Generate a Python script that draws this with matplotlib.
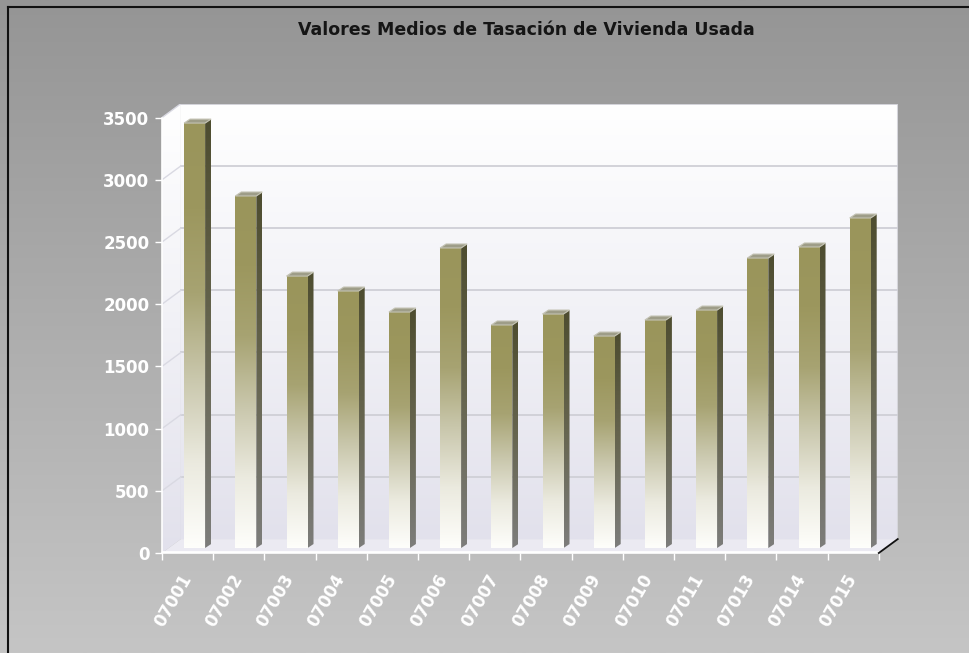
import numpy as np
import matplotlib.pyplot as plt
from matplotlib.colors import LinearSegmentedColormap
from matplotlib.patches import Polygon
from matplotlib.lines import Line2D

# datos
codigos = ['07001', '07002', '07003', '07004', '07005', '07006', '07007',
           '07008', '07009', '07010', '07011', '07013', '07014', '07015']
valores = [3416, 2830, 2186, 2066, 1897, 2412, 1793,
           1881, 1704, 1833, 1913, 2331, 2420, 2653]
y_ticks = [0, 500, 1000, 1500, 2000, 2500, 3000, 3500]

W, H = 970, 653
YMAX = 3500
n = len(codigos)

# 3d look (depth offsets in data units)
DX, DY = 0.37, 112      # wall depth
BX, BY = 0.137, 40      # bar position in depth
SX, SY = 0.117, 32      # bar side depth
BW = 0.41               # bar width

fig = plt.figure(figsize=(W / 100, H / 100), dpi=100)

# background gradient
bg = fig.add_axes([0, 0, 1, 1])
grad = np.linspace(0, 1, 256).reshape(-1, 1)
bg_cmap = LinearSegmentedColormap.from_list('bg', ['#959595', '#c5c5c5'])
bg.imshow(grad, cmap=bg_cmap, aspect='auto', extent=[0, 1, 0, 1], origin='upper')
bg.set_xlim(0, 1)
bg.set_ylim(0, 1)
bg.axis('off')
fig.add_artist(Line2D([8 / W, 8 / W], [0, 1 - 7 / H], transform=fig.transFigure, color='#111111', lw=1.5))
fig.add_artist(Line2D([8 / W, 1], [1 - 7 / H, 1 - 7 / H], transform=fig.transFigure, color='#111111', lw=1.5))

fig.text(526 / W, 1 - 30 / H, 'Valores Medios de Tasación de Vivienda Usada',
         ha='center', va='center', fontsize=12.5, fontweight='bold', color='#151515')

# main axes: front axis from x=162 px, zero at y=553 px
px_x = 51.2
px_y = 0.1244
ax = fig.add_axes([162 / W, 100 / H, (n + DX) * px_x / W, (YMAX + DY) * px_y / H])
ax.patch.set_alpha(0)
xmax = n + DX
ymax = YMAX + DY

# walls
wall_cmap = LinearSegmentedColormap.from_list('wall', ['#e2e1ec', '#f1f1f6', '#ffffff'])
back = Polygon([(DX, DY), (n + DX, DY), (n + DX, YMAX + DY), (DX, YMAX + DY)], closed=True,
               facecolor='none', edgecolor='none')
ax.add_patch(back)
im = ax.imshow(grad, cmap=wall_cmap, origin='lower',
               aspect='auto', extent=[DX, n + DX, DY, YMAX + DY], zorder=0)
im.set_clip_path(back)
left = Polygon([(0, 0), (DX, DY), (DX, YMAX + DY), (0, YMAX)], closed=True,
               facecolor='none', edgecolor='none')
ax.add_patch(left)
im2 = ax.imshow(grad, cmap=wall_cmap, origin='lower',
                aspect='auto', extent=[0, DX, 0, YMAX + DY], zorder=0)
im2.set_clip_path(left)
ax.add_patch(Polygon([(0, 0), (n, 0), (n + DX, DY), (DX, DY)], closed=True,
                     facecolor='#ebeaf2', edgecolor='none', zorder=0.5))
ax.plot([0, n], [8, 8], color='#ffffff', lw=2, zorder=0.6)
ax.plot([n + DX, n + DX], [DY, YMAX + DY], color='#d6d6dc', lw=1.5, zorder=0.6)

# grid on walls
for v in y_ticks[1:]:
    ax.plot([DX, n + DX], [v + DY, v + DY], color='#cfcfd6', lw=1.3, zorder=1)
    ax.plot([0, DX], [v, v + DY], color='#d9d9e2', lw=1.0, zorder=1)

# bars
front_cmap = LinearSegmentedColormap.from_list(
    'front', ['#fefefb', '#ebeadf', '#c9c7ac', '#a7a372', '#9c975e', '#9a955b'])
side_cmap = LinearSegmentedColormap.from_list('side', ['#7d7d7b', '#66654f', '#4e4d30'])
xs = np.arange(n) + 0.5 + BX
bars = ax.bar(xs, valores, width=BW, bottom=BY, color='none', edgecolor='none', zorder=2)
for b, v in zip(bars, valores):
    x0 = b.get_x()
    x1 = x0 + BW
    top = BY + v
    img = ax.imshow(grad, cmap=front_cmap, origin='lower', aspect='auto',
                    extent=[x0, x1, BY, top], zorder=2)
    img.set_clip_path(b)
    side = Polygon([(x1, BY), (x1 + SX, BY + SY), (x1 + SX, top + SY), (x1, top)], closed=True,
                   facecolor='none', edgecolor='none', zorder=2)
    ax.add_patch(side)
    simg = ax.imshow(grad, cmap=side_cmap, origin='lower', aspect='auto',
                     extent=[x1, x1 + SX, BY, top + SY], zorder=2)
    simg.set_clip_path(side)
    ax.add_patch(Polygon([(x0, top), (x1, top), (x1 + SX, top + SY), (x0 + SX, top + SY)],
                         closed=True, facecolor='#9e9d88', edgecolor='#c4c3b4', lw=0.8, zorder=3))

ax.plot([n, n + DX], [0, DY], color='#111111', lw=1.3, zorder=4, clip_on=False)

ax.set_xlim(0, xmax)
ax.set_ylim(0, ymax)

for s in ['top', 'right']:
    ax.spines[s].set_visible(False)
ax.spines['left'].set_bounds(0, YMAX)
ax.spines['bottom'].set_bounds(0, n)
for s in ['left', 'bottom']:
    ax.spines[s].set_color('white')
    ax.spines[s].set_linewidth(1.2)

ax.set_yticks(y_ticks)
ax.set_yticklabels([str(v) for v in y_ticks])
ax.tick_params(axis='y', colors='white', length=5, width=1.0, pad=4, labelsize=12)
for t in ax.get_yticklabels():
    t.set_fontweight('bold')

ax.set_xticks(np.arange(n) + 0.5)
ax.set_xticklabels(codigos, rotation=60, ha='right', va='center', rotation_mode='anchor')
ax.set_xticks(np.arange(n + 1), minor=True)
ax.tick_params(axis='x', which='major', length=0, pad=16, labelsize=12, colors='white')
ax.tick_params(axis='x', which='minor', length=5, width=1.0, color='white')
for t in ax.get_xticklabels():
    t.set_fontweight('bold')

fig.savefig('out.png', dpi=100)
